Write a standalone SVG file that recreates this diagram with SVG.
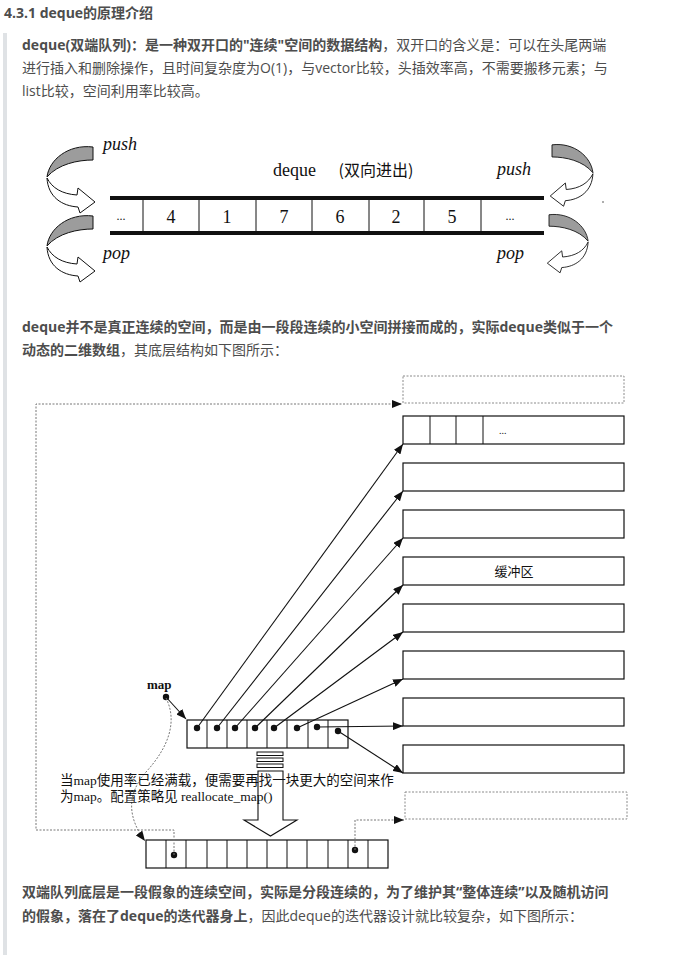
<svg xmlns="http://www.w3.org/2000/svg" xmlns:xlink="http://www.w3.org/1999/xlink" width="675" height="955" viewBox="0 0 675 955">
<style>
.t{font-family:"Open Sans","Noto Sans CJK SC",sans-serif;font-size:14px;fill:#4d4d4d}
.b{font-weight:bold}
.sr{font-family:"Liberation Serif","Noto Sans CJK SC",serif;fill:#111}
.cjk{font-family:"Noto Sans CJK SC",sans-serif;fill:#111}
.box{fill:#fff;stroke:#111;stroke-width:1.2}
.cell{fill:none;stroke:#111;stroke-width:1}
.dbox{fill:none;stroke:#8a8a8a;stroke-width:1;stroke-dasharray:2 1.5}
.dl{fill:none;stroke:#777;stroke-width:1;stroke-dasharray:2 1.5}
.ln{fill:none;stroke:#111;stroke-width:1.1}
.dot{fill:#111}
</style>
<defs>
<marker id="ah" viewBox="0 0 10 8" refX="10" refY="4" markerWidth="10" markerHeight="8" markerUnits="userSpaceOnUse" orient="auto"><path d="M0,0 L10,4 L0,8 Z" fill="#111"/></marker>
<g id="curl">
<path d="M-46,33 C-41,43 -31,49 -16,50 L-15,43 L2,57 L-13,68 L-15,62 C-31,61 -45,52 -46,33 Z" fill="#fff" stroke="#111" stroke-width="1"/>
<path d="M0,2 L0,15 C-15,15 -35,19 -46,32 C-44,15 -25,-1 0,2 Z" fill="#9c9c9c" stroke="#111" stroke-width="1"/>
</g>
</defs>
<rect width="675" height="955" fill="#fff"/>
<rect x="3" y="33" width="4" height="922" fill="#dfe2e5"/>

<g id="heading"><text class="t b" x="4" y="18">4.3.1 deque的原理介绍</text></g>

<g id="para1">
<text class="t" x="22" y="50"><tspan class="b">deque(双端队列)：是一种双开口的"连续"空间的数据结构</tspan>，双开口的含义是：可以在头尾两端</text>
<text class="t" x="22" y="73">进行插入和删除操作，且时间复杂度为O(1)，与vector比较，头插效率高，不需要搬移元素；与</text>
<text class="t" x="22" y="96">list比较，空间利用率比较高。</text>
</g>

<g id="deque-figure">
<rect x="110" y="196" width="434" height="4" fill="#111"/>
<rect x="110" y="231" width="434" height="4" fill="#111"/>
<g stroke="#111" stroke-width="1">
<line x1="143" y1="200" x2="143" y2="231"/><line x1="199" y1="200" x2="199" y2="231"/>
<line x1="256" y1="200" x2="256" y2="231"/><line x1="312" y1="200" x2="312" y2="231"/>
<line x1="369" y1="200" x2="369" y2="231"/><line x1="424" y1="200" x2="424" y2="231"/>
<line x1="481" y1="200" x2="481" y2="231"/>
</g>
<g class="sr" font-size="18" text-anchor="middle">
<text x="121" y="220" font-size="12">...</text>
<text x="171" y="223">4</text><text x="227" y="223">1</text><text x="284" y="223">7</text>
<text x="340" y="223">6</text><text x="396" y="223">2</text><text x="452" y="223">5</text>
<text x="510" y="220" font-size="12">...</text>
</g>
<text class="sr" x="273" y="176" font-size="18">deque</text>
<text class="cjk" x="376" y="176" font-size="16" text-anchor="middle">(双向进出)</text>
<g class="sr" font-size="18" font-style="italic">
<text x="103" y="150">push</text><text x="103" y="259">pop</text>
<text x="497" y="175">push</text><text x="497" y="259">pop</text>
</g>
<use xlink:href="#curl" transform="translate(93,145)"/>
<use xlink:href="#curl" transform="translate(93,214)"/>
<use xlink:href="#curl" transform="translate(552,143) scale(-0.89,0.93)"/>
<use xlink:href="#curl" transform="translate(549,213) scale(-0.85,0.88)"/>
<circle cx="603" cy="202" r="0.8" fill="#444"/>
</g>

<g id="para2">
<text class="t b" x="22" y="332">deque并不是真正连续的空间，而是由一段段连续的小空间拼接而成的，实际deque类似于一个</text>
<text class="t" x="22" y="355"><tspan class="b">动态的二维数组</tspan>，其底层结构如下图所示：</text>
</g>

<g id="buffer-new-top"><rect class="dbox" x="403" y="376" width="221" height="27"/></g>
<g id="buffer-1"><rect class="box" x="403" y="416" width="221" height="28"/>
<line class="cell" x1="430" y1="416" x2="430" y2="444"/><line class="cell" x1="456" y1="416" x2="456" y2="444"/><line class="cell" x1="483" y1="416" x2="483" y2="444"/>
<text class="sr" x="499" y="434" font-size="10">...</text></g>
<g id="buffer-2"><rect class="box" x="403" y="463" width="221" height="28"/></g>
<g id="buffer-3"><rect class="box" x="403" y="510" width="221" height="28"/></g>
<g id="buffer-4"><rect class="box" x="403" y="557" width="221" height="28"/><text class="cjk" x="514" y="576" font-size="13" text-anchor="middle">缓冲区</text></g>
<g id="buffer-5"><rect class="box" x="403" y="604" width="221" height="28"/></g>
<g id="buffer-6"><rect class="box" x="403" y="651" width="221" height="28"/></g>
<g id="buffer-7"><rect class="box" x="403" y="698" width="221" height="28"/></g>
<g id="buffer-8"><rect class="box" x="403" y="745" width="221" height="28"/></g>
<g id="buffer-new-bottom"><rect class="dbox" x="405" y="792" width="222" height="27"/></g>

<g id="map-label"><text class="sr" x="147" y="689" font-size="13" font-weight="bold">map</text><circle class="dot" cx="166" cy="697" r="3.2"/></g>

<g id="map-array">
<rect x="287" y="720" width="21" height="28" fill="#e9e9e9"/>
<rect class="box" x="187" y="720" width="161" height="28" fill="none"/>
<g class="cell">
<line x1="207" y1="720" x2="207" y2="748"/><line x1="227" y1="720" x2="227" y2="748"/><line x1="247" y1="720" x2="247" y2="748"/>
<line x1="267" y1="720" x2="267" y2="748"/><line x1="287" y1="720" x2="287" y2="748"/><line x1="308" y1="720" x2="308" y2="748"/>
<line x1="328" y1="720" x2="328" y2="748"/>
</g>
<circle class="dot" cx="197" cy="728" r="3.2"/><circle class="dot" cx="217" cy="728" r="3.2"/>
<circle class="dot" cx="235" cy="728" r="3.2"/><circle class="dot" cx="255" cy="728" r="3.2"/>
<circle class="dot" cx="274" cy="728" r="3.2"/><circle class="dot" cx="297" cy="728" r="3.2"/>
<circle class="dot" cx="317" cy="727" r="3.2"/><circle class="dot" cx="338" cy="731" r="3.2"/>
</g>

<g id="new-map-array">
<rect x="227" y="840" width="60" height="28" fill="#f3f3f3"/>
<rect x="287" y="840" width="20" height="28" fill="#e6e6e6"/>
<rect class="box" x="146" y="840" width="242" height="28" fill="none"/>
<g class="cell">
<line x1="166" y1="840" x2="166" y2="868"/><line x1="186" y1="840" x2="186" y2="868"/><line x1="207" y1="840" x2="207" y2="868"/>
<line x1="227" y1="840" x2="227" y2="868"/><line x1="247" y1="840" x2="247" y2="868"/><line x1="267" y1="840" x2="267" y2="868"/>
<line x1="287" y1="840" x2="287" y2="868"/><line x1="307" y1="840" x2="307" y2="868"/><line x1="328" y1="840" x2="328" y2="868"/>
<line x1="348" y1="840" x2="348" y2="868"/><line x1="368" y1="840" x2="368" y2="868"/>
</g>
<circle class="dot" cx="174" cy="855" r="3.2"/><circle class="dot" cx="355" cy="850" r="3.2"/>
</g>

<g id="connectors">
<line class="ln" x1="166" y1="697" x2="186" y2="719" marker-end="url(#ah)"/>
<line class="ln" x1="197" y1="728" x2="403" y2="444" marker-end="url(#ah)"/>
<line class="ln" x1="217" y1="728" x2="403" y2="491" marker-end="url(#ah)"/>
<line class="ln" x1="235" y1="728" x2="403" y2="538" marker-end="url(#ah)"/>
<line class="ln" x1="255" y1="728" x2="403" y2="585" marker-end="url(#ah)"/>
<line class="ln" x1="274" y1="728" x2="403" y2="632" marker-end="url(#ah)"/>
<line class="ln" x1="297" y1="728" x2="403" y2="679" marker-end="url(#ah)"/>
<line class="ln" x1="317" y1="727" x2="403" y2="726" marker-end="url(#ah)"/>
<line class="ln" x1="338" y1="731" x2="403" y2="773" marker-end="url(#ah)"/>
<path class="dl" d="M166,698 C178,722 168,748 146,772 C126,795 128,818 145,841" marker-end="url(#ah)"/>
<path class="dl" d="M174,855 V830 H36 V404 H402" marker-end="url(#ah)"/>
<path class="dl" d="M355,850 V820 H404" marker-end="url(#ah)"/>
</g>

<g id="realloc-arrow">
<rect x="257" y="752" width="26" height="3.5" fill="#fff" stroke="#111" stroke-width="1"/>
<rect x="257" y="758" width="26" height="3.5" fill="#fff" stroke="#111" stroke-width="1"/>
<rect x="257" y="764" width="26" height="3.5" fill="#fff" stroke="#111" stroke-width="1"/>
<path d="M258,771 V820 H244 L270.5,836 L297,820 H283 V771 Z" fill="#fff" stroke="#111" stroke-width="1.1"/>
</g>

<g id="realloc-note" font-size="13.5">
<text class="sr" x="60" y="785">当map使用率已经满载，便需要再找一块更大的空间来作</text>
<text class="sr" x="60" y="801">为map。配置策略见 reallocate_map()</text>
</g>

<g id="para3">
<text class="t b" x="22" y="897">双端队列底层是一段假象的连续空间，实际是分段连续的，为了维护其“整体连续”以及随机访问</text>
<text class="t" x="22" y="921"><tspan class="b">的假象，落在了deque的迭代器身上</tspan>，因此deque的迭代器设计就比较复杂，如下图所示：</text>
</g>
</svg>
